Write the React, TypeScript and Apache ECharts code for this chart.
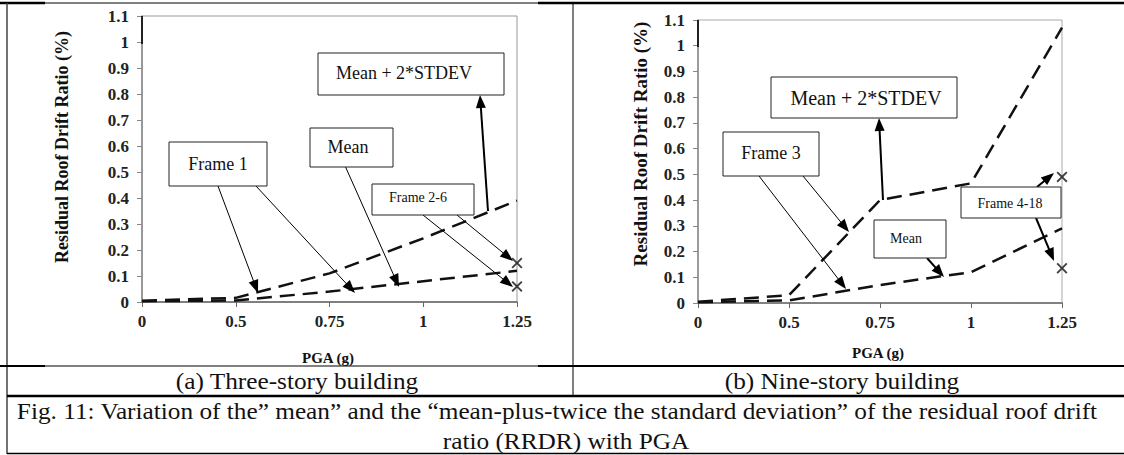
import React, { useEffect, useRef } from "react";
import * as echarts from "echarts";

// ---- data ----
const X_LABELS = ["0", "0.5", "0.75", "1", "1.25"];
const Y_MIN = 0;
const Y_MAX = 1.1;
const Y_STEP = 0.1;

// (a) Three-story building
const THREE_MEAN = [0.003, 0.006, 0.04, 0.08, 0.12];
const THREE_MEAN_2SD = [0.005, 0.016, 0.11, 0.245, 0.39];
const THREE_FRAMES_AT_MAX = [0.15, 0.06]; // Frame 2-6 at PGA 1.25

// (b) Nine-story building
const NINE_MEAN = [0.003, 0.01, 0.07, 0.12, 0.29];
const NINE_MEAN_2SD = [0.005, 0.03, 0.4, 0.465, 1.07];
const NINE_FRAMES_AT_MAX = [0.49, 0.135]; // Frame 4-18 at PGA 1.25

const FONT = '"Liberation Serif", "Times New Roman", Times, serif';
const X_SHAPE =
  "path://M0,1.2L1.2,0L5,3.8L8.8,0L10,1.2L6.2,5L10,8.8L8.8,10L5,6.2L1.2,10L0,8.8L3.8,5Z";

function arrow(x1: number, y1: number, x2: number, y2: number, w = 1, head = 13, hw = 5) {
  const dx = x2 - x1;
  const dy = y2 - y1;
  const len = Math.sqrt(dx * dx + dy * dy);
  const ux = dx / len;
  const uy = dy / len;
  const bx = x2 - ux * head;
  const by = y2 - uy * head;
  const px = -uy;
  const py = ux;
  return [
    {
      type: "line",
      z: 100,
      shape: { x1, y1, x2: bx + ux * 2, y2: by + uy * 2 },
      style: { stroke: "#000", lineWidth: w },
    },
    {
      type: "polygon",
      z: 100,
      shape: {
        points: [
          [x2, y2],
          [bx + px * hw, by + py * hw],
          [bx - px * hw, by - py * hw],
        ],
      },
      style: { fill: "#000" },
    },
  ];
}

function box(x: number, y: number, w: number, h: number, text: string, tx: number, ty: number, size: number) {
  return [
    {
      type: "rect",
      z: 100,
      shape: { x, y, width: w, height: h },
      style: { fill: "#fff", stroke: "#222", lineWidth: 1 },
    },
    {
      type: "text",
      z: 101,
      x: tx,
      y: ty,
      style: {
        text,
        font: `${size}px ${FONT}`,
        fill: "#111",
        align: "center",
        verticalAlign: "middle",
      },
    },
  ];
}

function hline(x1: number, x2: number, y: number, w: number, c = "#000") {
  return { type: "line", z: 90, shape: { x1, y1: y, x2, y2: y }, style: { stroke: c, lineWidth: w } };
}
function vline(x: number, y1: number, y2: number, w: number, c = "#000") {
  return { type: "line", z: 90, shape: { x1: x, y1, x2: x, y2 }, style: { stroke: c, lineWidth: w } };
}
function label(text: string, x: number, y: number, font: string, rotation = 0, scaleX = 1) {
  return {
    type: "text",
    z: 95,
    x,
    y,
    rotation,
    scaleX,
    style: { text, font, fill: "#111", align: "center", verticalAlign: "middle" },
  };
}

function xAxisCfg(gridIndex: number) {
  return {
    gridIndex,
    type: "category",
    data: X_LABELS,
    boundaryGap: false,
    axisLine: { lineStyle: { color: "#666", width: 1.5 } },
    axisTick: { show: true, length: 5, lineStyle: { color: "#666" } },
    axisLabel: { margin: 11, fontFamily: FONT, fontWeight: "bold", fontSize: 17, color: "#222" },
    splitLine: { show: false },
  };
}
function yAxisCfg(gridIndex: number) {
  return {
    gridIndex,
    type: "value",
    min: Y_MIN,
    max: Y_MAX,
    interval: Y_STEP,
    axisLine: { show: true, lineStyle: { color: "#888", width: 1.5 } },
    axisTick: { show: true, length: 5, lineStyle: { color: "#888" } },
    axisLabel: { margin: 13, fontFamily: FONT, fontWeight: "bold", fontSize: 17, color: "#222" },
    splitLine: { show: false },
  };
}

const dashed = { color: "#111", width: 2.5, type: [15, 8] as number[] };

export default function App() {
  const ref = useRef<HTMLDivElement>(null);
  useEffect(() => {
    if (!ref.current) return;
    const chart = echarts.init(ref.current, undefined, { renderer: "svg" });
    const last = X_LABELS[X_LABELS.length - 1];
    const capFont = `23px ${FONT}`;
    const graphicEls: any[] = [
      // table frame
      hline(0, 45, 3, 2.5),
      hline(45, 538, 3, 1),
      hline(538, 1124, 3, 2.5),
      vline(7, 3, 454, 1.5, "#444"),
      vline(573, 3, 396, 1),
      hline(0, 45, 366, 2),
      hline(45, 538, 366, 1),
      hline(538, 1124, 366, 2),
      hline(7, 1124, 396, 2.5),
      hline(7, 1124, 453.5, 1.5),
      // dark top segments of the y axes
      vline(142, 16, 44, 2, "#222"),
      vline(698, 20, 47, 2, "#222"),
      // texts
      label("(a) Three-story building", 297, 381, capFont, 0, 1.1),
      label("(b) Nine-story building", 842, 381, capFont, 0, 1.1),
      label(
        "Fig. 11: Variation of the\u201d mean\u201d and the \u201cmean-plus-twice the standard deviation\u201d of the residual roof drift",
        557,
        411,
        capFont,
        0,
        1.1
      ),
      label("ratio (RRDR) with PGA", 566, 441, capFont, 0, 1.1),
      // axis names
      label("Residual Roof Drift Ratio (%)", 62, 147, `bold 18px ${FONT}`, Math.PI / 2),
      label("Residual Roof Drift Ratio (%)", 640, 144, `bold 19px ${FONT}`, Math.PI / 2),
      label("PGA (g)", 328, 358, `bold 15px ${FONT}`),
      label("PGA (g)", 878, 353, `bold 15px ${FONT}`),
      // left annotations
      ...arrow(218, 186, 258, 293),
      ...arrow(256, 186, 355, 293),
      ...arrow(342, 159, 399, 287),
      ...arrow(457, 215, 513, 261),
      ...arrow(423, 215, 513, 287),
      ...arrow(488, 211, 480, 95, 2),
      ...box(169, 142, 98, 44, "Frame 1", 218, 164, 18),
      ...box(318, 53, 186, 42, "Mean + 2*STDEV", 404, 73, 18),
      ...box(310, 128, 83, 39, "Mean", 348, 147, 18),
      ...box(372, 184, 102, 31, "Frame 2-6", 418, 197, 14),
      // right annotations
      ...arrow(759, 176, 846, 289),
      ...arrow(803, 176, 849, 232),
      ...arrow(883, 200, 879, 118, 2),
      ...arrow(927, 258, 944, 277, 2),
      ...arrow(1037, 187, 1054, 173, 2),
      ...arrow(1036, 218, 1054, 261, 2),
      ...box(723, 132, 96, 44, "Frame 3", 771, 153, 18),
      ...box(771, 77, 186, 41, "Mean + 2*STDEV", 866, 98, 20),
      ...box(961, 187, 100, 31, "Frame 4-18", 1010, 203, 14),
      ...box(874, 220, 72, 38, "Mean", 906, 238, 14),
    ];
    chart.setOption({
      animation: false,
      backgroundColor: "#fff",
      grid: [
        { left: 142, top: 16, width: 375, height: 286, show: true, borderColor: "#999", borderWidth: 1 },
        { left: 698, top: 20, width: 364, height: 283, show: true, borderColor: "#aaa", borderWidth: 1 },
      ],
      xAxis: [xAxisCfg(0), xAxisCfg(1)],
      yAxis: [yAxisCfg(0), yAxisCfg(1)],
      series: [
        { name: "Mean (3-story)", type: "line", xAxisIndex: 0, yAxisIndex: 0, data: THREE_MEAN, symbol: "none", lineStyle: dashed },
        { name: "Mean + 2*STDEV (3-story)", type: "line", xAxisIndex: 0, yAxisIndex: 0, data: THREE_MEAN_2SD, symbol: "none", lineStyle: dashed },
        {
          name: "Frame 2-6",
          type: "scatter",
          xAxisIndex: 0,
          yAxisIndex: 0,
          clip: false,
          symbol: X_SHAPE,
          symbolSize: 11,
          itemStyle: { color: "#111" },
          data: THREE_FRAMES_AT_MAX.map((v) => [last, v]),
        },
        { name: "Mean (9-story)", type: "line", xAxisIndex: 1, yAxisIndex: 1, data: NINE_MEAN, symbol: "none", lineStyle: dashed },
        { name: "Mean + 2*STDEV (9-story)", type: "line", xAxisIndex: 1, yAxisIndex: 1, data: NINE_MEAN_2SD, symbol: "none", lineStyle: dashed },
        {
          name: "Frame 4-18",
          type: "scatter",
          xAxisIndex: 1,
          yAxisIndex: 1,
          clip: false,
          symbol: X_SHAPE,
          symbolSize: 11,
          itemStyle: { color: "#111" },
          data: NINE_FRAMES_AT_MAX.map((v) => [last, v]),
        },
      ],
      graphic: { elements: graphicEls },
    });
    return () => chart.dispose();
  }, []);
  return (
    <div
      ref={ref}
      style={{ position: "absolute", left: 0, top: 0, width: 1124, height: 455, background: "#fff" }}
    />
  );
}
